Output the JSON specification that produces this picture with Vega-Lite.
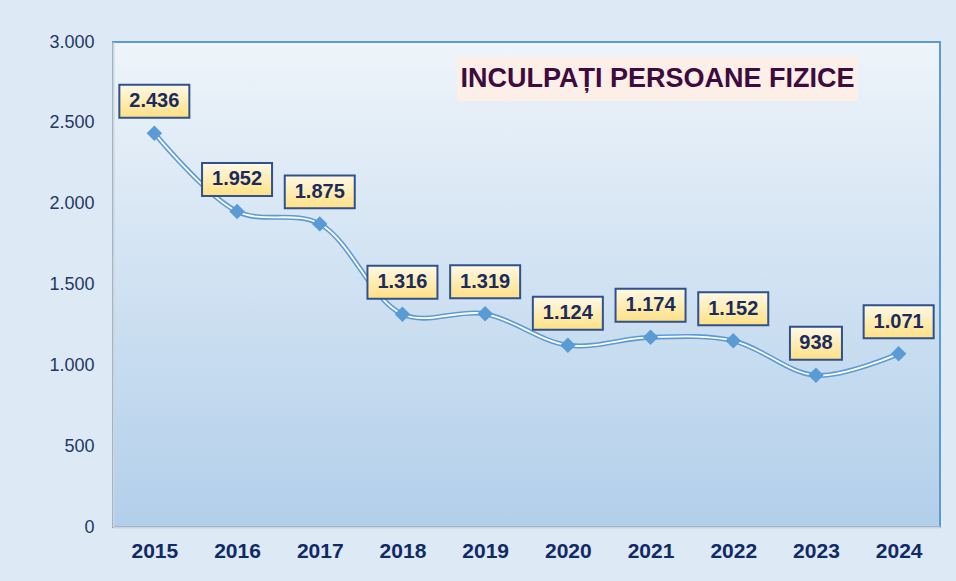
{
  "$schema": "https://vega.github.io/schema/vega-lite/v6.json",
  "width": 827,
  "height": 485,
  "autosize": {"type": "none"},
  "padding": {"left": 113, "top": 42, "right": 16, "bottom": 54},
  "background": "#dde9f5",
  "config": {
    "locale": {"number": {"decimal": ",", "thousands": ".", "grouping": [3], "currency": ["", ""]}},
    "font": "Liberation Sans",
    "view": {
      "fill": {"gradient": "linear", "x1": 0, "y1": 0, "x2": 0, "y2": 1, "stops": [{"offset": 0, "color": "#eef4fa"}, {"offset": 1, "color": "#b2cfea"}]},
      "stroke": "#5b9bd5",
      "strokeWidth": 2
    }
  },
  "datasets": {
    "main": [
      {"year": "2015", "v": 2436},
      {"year": "2016", "v": 1952},
      {"year": "2017", "v": 1875},
      {"year": "2018", "v": 1316},
      {"year": "2019", "v": 1319},
      {"year": "2020", "v": 1124},
      {"year": "2021", "v": 1174},
      {"year": "2022", "v": 1152},
      {"year": "2023", "v": 938},
      {"year": "2024", "v": 1071}
    ],
    "ttl": [{"t": "INCULPAȚI PERSOANE FIZICE", "year": "2021", "v": 2771}]
  },
  "encoding": {
    "x": {
      "field": "year", "type": "nominal",
      "scale": {"type": "point", "padding": 0.5, "domain": ["2015", "2016", "2017", "2018", "2019", "2020", "2021", "2022", "2023", "2024"]},
      "axis": {"title": null, "labelAngle": 0, "ticks": false, "domainColor": "#d3d3d3", "domainWidth": 2, "labelFont": "Liberation Sans", "labelFontWeight": "bold", "labelFontSize": 21, "labelColor": "#102a66", "labelPadding": 13}
    },
    "y": {
      "field": "v", "type": "quantitative",
      "scale": {"domain": [0, 3000], "nice": false},
      "axis": {"title": null, "values": [0, 500, 1000, 1500, 2000, 2500, 3000], "format": ",d", "grid": false, "ticks": false, "domainColor": "#d3d3d3", "domainWidth": 2, "labelFontSize": 18, "labelColor": "#1f3864", "labelPadding": 19}
    }
  },
  "layer": [
    {
      "data": {"name": "ttl"},
      "mark": {"type": "point", "filled": true, "opacity": 1, "fill": "#fcefe8", "strokeWidth": 0, "shape": "M-1,-0.1097H1V0.1097H-1Z", "size": 160801, "xOffset": 7}
    },
    {
      "data": {"name": "ttl"},
      "mark": {"type": "text", "xOffset": 7, "fontSize": 27, "fontWeight": "bold", "color": "#3e0b3e", "baseline": "middle", "align": "center"},
      "encoding": {"text": {"field": "t"}}
    },
    {
      "data": {"name": "main"},
      "mark": {"type": "line", "interpolate": "catmull-rom", "strokeWidth": 5, "color": "#5b9bd5"}
    },
    {
      "data": {"name": "main"},
      "mark": {"type": "line", "interpolate": "catmull-rom", "strokeWidth": 1.8, "color": "#ffffff"}
    },
    {
      "data": {"name": "main"},
      "mark": {"type": "point", "shape": "diamond", "filled": true, "opacity": 1, "size": 240, "color": "#5b9bd5"}
    },
    {
      "data": {"name": "main"},
      "mark": {
        "type": "point", "filled": true, "opacity": 1, "yOffset": -32,
        "fill": {"gradient": "linear", "x1": 0, "y1": 0, "x2": 0, "y2": 1, "stops": [{"offset": 0, "color": "#fff9e6"}, {"offset": 1, "color": "#ffe083"}]},
        "stroke": "#2f528f", "strokeWidth": 2
      },
      "encoding": {
        "shape": {"condition": {"test": "datum.v < 1000", "value": "M-1,-0.635H1V0.635H-1Z"}, "value": "M-1,-0.471H1V0.471H-1Z"},
        "size": {"condition": {"test": "datum.v < 1000", "value": 2704}, "value": 4900}
      }
    },
    {
      "data": {"name": "main"},
      "mark": {"type": "text", "yOffset": -32, "fontSize": 20, "fontWeight": "bold", "color": "#1a2b5e", "baseline": "middle", "align": "center"},
      "encoding": {"text": {"field": "v", "type": "quantitative", "format": ",d"}}
    }
  ]
}
